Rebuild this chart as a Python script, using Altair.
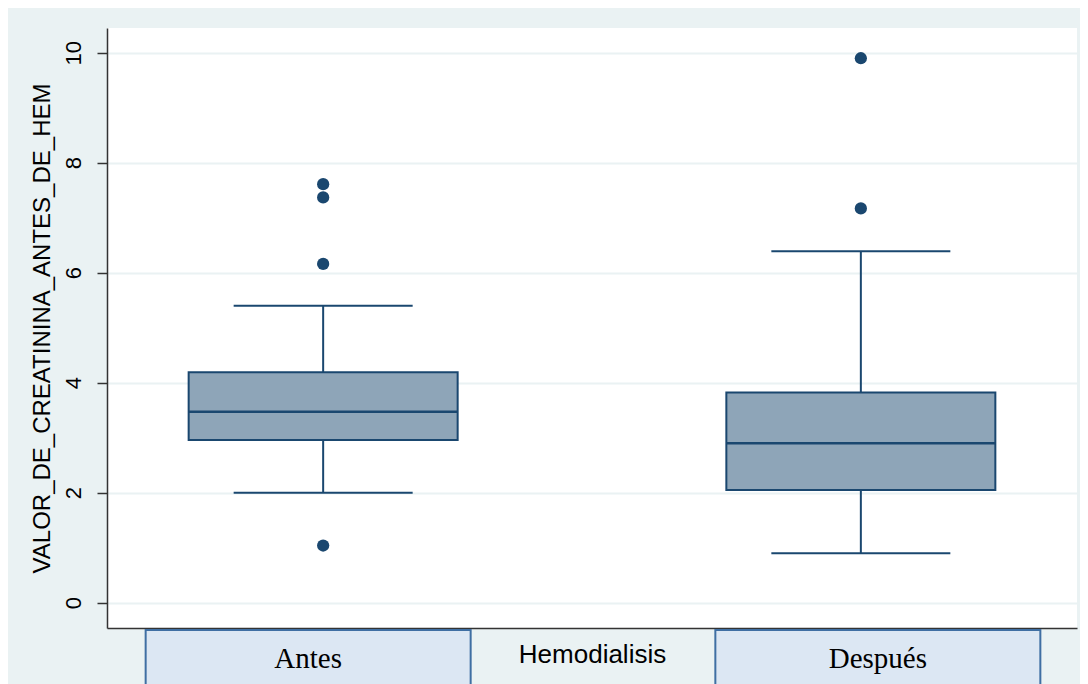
import altair as alt
import pandas as pd

# ---- data ----
cats = ["Antes", "Después"]
q1 = [2.96, 2.05]
med = [3.47, 2.90]
q3 = [4.19, 3.82]
lo = [2.00, 0.90]
hi = [5.40, 6.39]

out_cat = ["Antes", "Antes", "Antes", "Antes", "Después", "Después"]
out_val = [7.61, 7.37, 6.16, 1.04, 9.90, 7.17]

y_ticks = [0, 2, 4, 6, 8, 10]
y_title = "VALOR_DE_CREATININA_ANTES_DE_HEM"
x_title = "Hemodialisis"

df = pd.DataFrame({"cat": cats, "q1": q1, "med": med, "q3": q3, "lo": lo, "hi": hi})
df_out = pd.DataFrame({"cat": out_cat, "val": out_val})

navy = "#1a476f"
box_fill = "#8ea5b8"
bg = "#eaf2f3"

xscale = alt.Scale(type="point", padding=0.402, domain=cats)
xaxis = alt.Axis(labels=False, ticks=False, grid=False, domain=True,
                 domainColor="#333333", domainWidth=1.5,
                 title=x_title, titleFont="Liberation Sans", titleFontSize=26,
                 titleFontWeight="normal", titleColor="black", titlePadding=13)
X = alt.X("cat:N", scale=xscale, axis=xaxis, sort=cats)

yscale = alt.Scale(domain=[-0.46, 10.45], nice=False, zero=False)
yaxis = alt.Axis(values=y_ticks, format="d", labelAngle=-90, labelFont="Liberation Sans",
                 labelFontSize=22, labelColor="black", labelPadding=12,
                 tickSize=10, tickColor="#333333", tickWidth=1.5,
                 domainColor="#333333", domainWidth=1.5,
                 grid=True, gridColor=bg, gridWidth=2,
                 title=y_title, titleFont="Liberation Sans", titleFontSize=24,
                 titleFontWeight="normal", titleColor="black", titlePadding=8)

base = alt.Chart(df)

box = base.mark_bar(size=269, fill=box_fill, stroke=navy, strokeWidth=2).encode(
    x=X, y=alt.Y("q1:Q", scale=yscale, axis=yaxis), y2="q3:Q")
w_lo = base.mark_rule(color=navy, strokeWidth=2).encode(x=X, y="lo:Q", y2="q1:Q")
w_hi = base.mark_rule(color=navy, strokeWidth=2).encode(x=X, y="q3:Q", y2="hi:Q")
median = base.mark_tick(size=269, thickness=2.5, color=navy, opacity=1).encode(x=X, y="med:Q")
cap_lo = base.mark_tick(size=179, thickness=2, color=navy, opacity=1).encode(x=X, y="lo:Q")
cap_hi = base.mark_tick(size=179, thickness=2, color=navy, opacity=1).encode(x=X, y="hi:Q")
pts = alt.Chart(df_out).mark_circle(size=150, color=navy, opacity=1).encode(x=X, y="val:Q")

label_layers = []
for c, off in zip(cats, [-15, 17]):
    lb = base.transform_filter(alt.datum.cat == c).mark_bar(
        size=325, fill="#dce7f3", stroke="#3f6fa3", strokeWidth=2, clip=False, xOffset=off
    ).encode(x=X, y=alt.value(602), y2=alt.value(720))
    lt = base.transform_filter(alt.datum.cat == c).mark_text(
        font="Liberation Serif", fontSize=29, color="black", baseline="alphabetic",
        clip=False, xOffset=off
    ).encode(x=X, y=alt.value(640), text="cat:N")
    label_layers += [lb, lt]

chart = alt.layer(w_lo, w_hi, box, median, cap_lo, cap_hi, pts, *label_layers).properties(
    width=970, height=600, autosize=alt.AutoSizeParams(type="none"),
    padding={"left": 99, "top": 20, "right": 3, "bottom": 60},
    background=bg,
).configure_view(fill="white", stroke=None)

chart.save("out.html", embed_options={"renderer": "svg", "actions": False})
